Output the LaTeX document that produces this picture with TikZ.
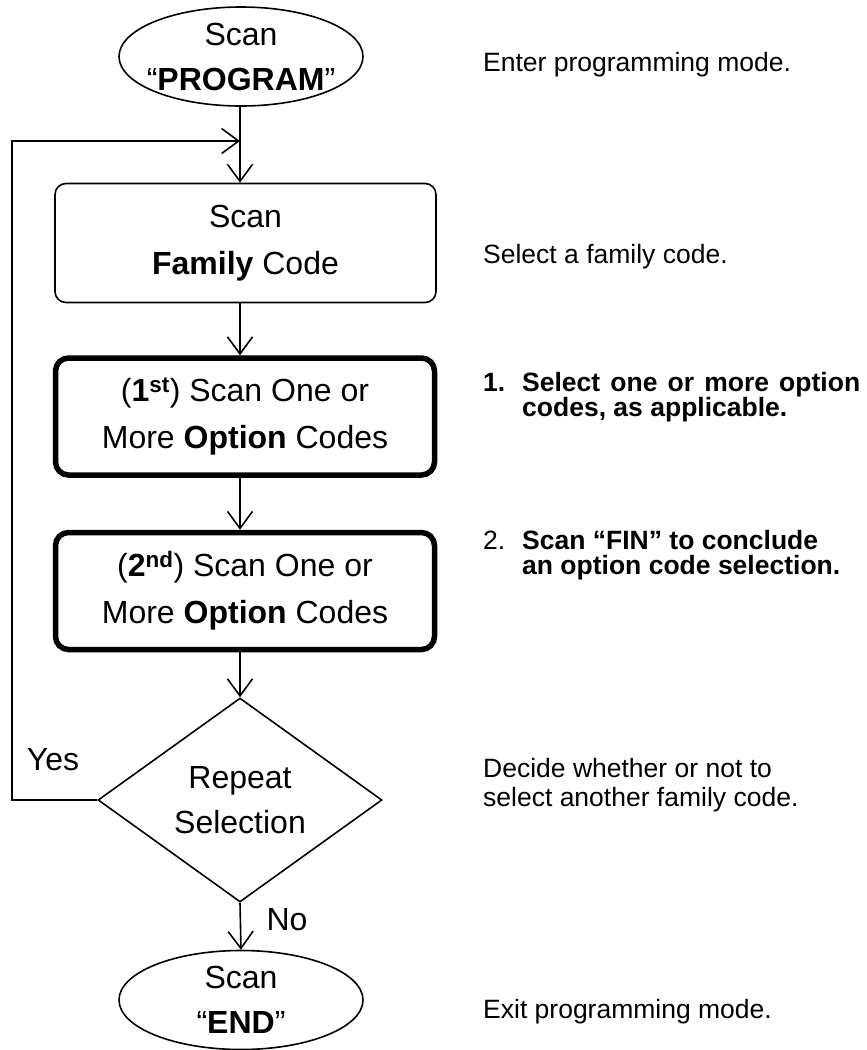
\documentclass[tikz,border=0pt]{standalone}
\usepackage{fontspec}
\setmainfont{Liberation Sans}
\usetikzlibrary{arrows.meta,shapes,positioning,calc}

\begin{document}
\begin{tikzpicture}[x=1pt,y=-1pt,
  every node/.style={font=\fontsize{32}{47}\selectfont},
  flow/.style={draw,line width=1.6pt,-{Straight Barb[length=17pt,width=25pt]}},
  term/.style={draw,ellipse,line width=1.6pt,minimum width=244pt,minimum height=99pt,inner xsep=-20pt,inner ysep=-8pt,align=center,font=\fontsize{32}{45}\selectfont},
  scanbox/.style={draw,rounded corners=11pt,line width=1.6pt,minimum width=381pt,minimum height=119pt,align=center},
  optbox/.style={scanbox,line width=5.5pt,rounded corners=13pt,minimum width=379pt,minimum height=117pt},
  note/.style={anchor=base west,inner sep=0pt,align=left,font=\fontsize{26.5}{29}\selectfont}]
\useasboundingbox (0,0) rectangle (867,1050);

% flow chart
\draw (241,56.5) node[term] (start) {Scan\\``\textbf{PROGRAM}''};
\draw (245.5,243) node[scanbox] (family) {Scan\\\textbf{Family} Code};
\draw (245,416.5) node[optbox] (opt1) {(\textbf{1\textsuperscript{st}}) Scan One or\\More \textbf{Option} Codes};
\draw (245,591) node[optbox] (opt2) {(\textbf{2\textsuperscript{nd}}) Scan One or\\More \textbf{Option} Codes};
\draw (240,800) node[draw,diamond,line width=1.6pt,minimum width=284pt,minimum height=204pt,inner sep=0pt,shape aspect=1.39,align=center,font=\fontsize{32}{45}\selectfont] (repeat) {Repeat\\Selection};
\draw (241,1000) node[term] (stop) {Scan\\``\textbf{END}''};

\draw (53,760) node (yes) {Yes};
\draw (287,920) node (no) {No};
\coordinate (join) at (240,141);

\path[flow] (start.south -| join) -- (family.north -| join);
\path[flow] (family.south -| join) -- (opt1.north -| join);
\path[flow] (opt1.south -| join) -- (opt2.north -| join);
\path[flow] (opt2.south -| repeat.north) -- (repeat.north);
\path[flow] (repeat.south) -- (stop.north);
\path[flow] (repeat.west) -- ++(-85,0) |- (join);

% notes
\draw (483,71.5) node[note] (n1) {Enter programming mode.};
\draw (483,263) node[note] (n2) {Select a family code.};
\draw (483,416) node[note,font=\fontsize{26.5}{25}\selectfont\bfseries] (n3)
  {\makebox[39pt][l]{1.}\makebox[338pt][s]{Select one or more option}\\\hspace*{39pt}codes, as applicable.};
\draw (483,574) node[note,font=\fontsize{26.5}{25}\selectfont] (n4)
  {\makebox[39pt][l]{2.}\textbf{Scan ``FIN'' to conclude}\\\hspace*{39pt}\textbf{an option code selection.}};
\draw (483,806.5) node[note] (n5) {Decide whether or not to\\select another family code.};
\draw (483,1018) node[note] (n6) {Exit programming mode.};
\end{tikzpicture}
\end{document}
